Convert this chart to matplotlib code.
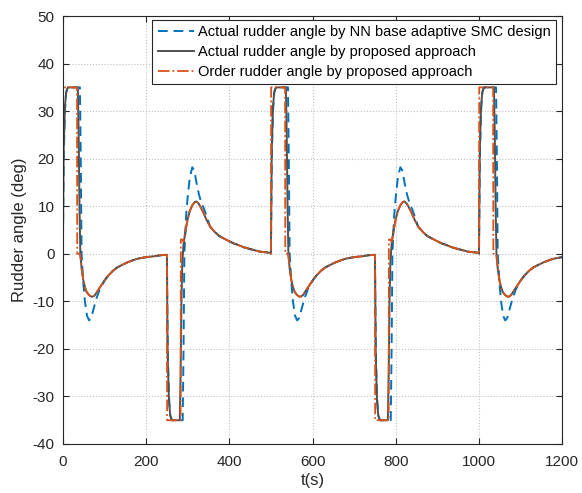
import numpy as np
import matplotlib.pyplot as plt
import matplotlib

matplotlib.rcParams.update({
    'font.family': ['Liberation Sans', 'DejaVu Sans'],
    'font.size': 11,
    'axes.unicode_minus': False,
})

# one manoeuvre, times relative to the start of the turn
# turn A: +35 deg saturation, then negative overshoot (t = 0, 500, 1000)
a_t_nn   = [0, 2, 5, 8, 12, 41, 43, 45, 49, 53, 58, 63, 68, 74, 81, 89, 101, 110, 120, 130, 141, 155, 170, 181, 200, 221, 235, 250]
a_v_nn   = [0, 20, 30, 34, 35, 35, 20, 0, -6, -10, -13, -14, -13.5, -11.5, -9.3, -7.4, -5.5, -4.5, -3.6, -2.9, -2.4, -1.8, -1.3, -1.0, -0.7, -0.5, -0.3, -0.2]
a_t_prop = [0, 2, 5, 8, 12, 36, 38, 40, 42, 45, 49, 53, 57, 62, 68, 72, 77, 85, 95, 101, 110, 120, 130, 141, 155, 170, 181, 200, 221, 235, 250]
a_v_prop = [0, 22, 31, 34, 35, 35, 25, 10, 0, -3, -5.5, -7, -8, -8.6, -9, -9, -8.7, -7.6, -6.3, -5.5, -4.5, -3.6, -2.9, -2.4, -1.8, -1.3, -1.0, -0.7, -0.5, -0.3, -0.2]
a_t_cmd  = [0, 0.5, 34, 34.5, 41, 42, 45, 49, 53, 57, 62, 68, 72, 77, 85, 95, 101, 110, 120, 130, 141, 155, 170, 181, 200, 221, 235, 250]
a_v_cmd  = [0, 35, 35, 0, 0, -0.5, -3, -5.5, -7, -8, -8.6, -9, -9, -8.7, -7.6, -6.3, -5.5, -4.5, -3.6, -2.9, -2.4, -1.8, -1.3, -1.0, -0.7, -0.5, -0.3, -0.2]

# turn B: -35 deg saturation, then positive overshoot (t = 250, 750)
b_t_nn   = [0, 2, 5, 8, 12, 38, 40, 42, 46, 50, 55, 61, 66, 71, 77, 83, 90, 104, 115, 125, 135, 144, 160, 170, 184, 200, 224, 240, 250]
b_v_nn   = [-0.2, -20, -30, -34, -35, -35, -20, 0, 7.8, 12, 16, 18.2, 17.5, 15, 12.5, 10.7, 9.3, 5.7, 4.6, 3.8, 3.3, 2.9, 2.2, 1.9, 1.4, 1.0, 0.45, 0.3, 0.2]
b_t_prop = [0, 2, 5, 8, 12, 31, 33, 35, 37, 40, 45, 50, 55, 61, 67, 71, 76, 80, 87, 95, 104, 115, 125, 135, 144, 160, 170, 184, 200, 224, 240, 250]
b_v_prop = [-0.2, -22, -31, -34, -35, -35, -25, -10, -2, 2, 5, 7.3, 9, 10.2, 10.9, 11, 10.6, 10, 8.8, 7.2, 5.7, 4.6, 3.8, 3.3, 2.9, 2.2, 1.9, 1.4, 1.0, 0.45, 0.3, 0.2]
b_t_cmd  = [0, 0.5, 33, 33.5, 38, 40, 45, 50, 55, 61, 67, 71, 76, 80, 87, 95, 104, 115, 125, 135, 144, 160, 170, 184, 200, 224, 240, 250]
b_v_cmd  = [-0.2, -35, -35, 3, 3, 2.5, 5, 7.3, 9, 10.2, 10.9, 11, 10.6, 10, 8.8, 7.2, 5.7, 4.6, 3.8, 3.3, 2.9, 2.2, 1.9, 1.4, 1.0, 0.45, 0.3, 0.2]

turn_starts = [0, 250, 500, 750, 1000]
turn_kinds  = ['A', 'B', 'A', 'B', 'A']

labels = ['Actual rudder angle by NN base adaptive SMC design',
          'Actual rudder angle by proposed approach',
          'Order rudder angle by proposed approach']


def build(t_a, v_a, t_b, v_b):
    ts, vs = [], []
    for start, kind in zip(turn_starts, turn_kinds):
        tt, vv = (t_a, v_a) if kind == 'A' else (t_b, v_b)
        ts += [start + x for x in tt]
        vs += list(vv)
    return np.array(ts), np.array(vs)


t_nn, v_nn = build(a_t_nn, a_v_nn, b_t_nn, b_v_nn)
t_prop, v_prop = build(a_t_prop, a_v_prop, b_t_prop, b_v_prop)
t_cmd, v_cmd = build(a_t_cmd, a_v_cmd, b_t_cmd, b_v_cmd)

fig = plt.figure(figsize=(5.82, 4.93), dpi=100)
ax = fig.add_axes([0.108, 0.0994, 0.858, 0.868])

ax.plot(t_nn, v_nn, '--', color='#0072BD', lw=1.4, dashes=(5, 3), label=labels[0])
ax.plot(t_prop, v_prop, '-', color='#505050', lw=1.4, label=labels[1])
ax.plot(t_cmd, v_cmd, '-.', color='#D95319', lw=1.3, label=labels[2])

ax.set_xlim(0, 1200)
ax.set_ylim(-40, 50)
ax.set_xticks(np.arange(0, 1201, 200))
ax.set_yticks(np.arange(-40, 51, 10))
ax.set_xlabel('t(s)', fontsize=12, color='#262626', labelpad=3)
ax.set_ylabel('Rudder angle (deg)', fontsize=12, color='#262626', labelpad=4)
ax.grid(True, linestyle=':', color='#c0c0c0', lw=0.8)
ax.tick_params(direction='in', top=True, right=True, length=4, colors='#262626', labelcolor='#262626')
ax.tick_params(axis='x', pad=8)
ax.tick_params(axis='y', pad=6)
for s in ax.spines.values():
    s.set_color('#262626')
    s.set_linewidth(0.8)

leg = ax.legend(loc='upper right', bbox_to_anchor=(0.988, 0.991), borderaxespad=0,
                fancybox=False, framealpha=1, edgecolor='#262626',
                handlelength=2.5, handletextpad=0.3, borderpad=0.35, labelspacing=0.42,
                fontsize=10.5)
leg.get_frame().set_linewidth(0.8)

fig.savefig('out.png', dpi=100)
